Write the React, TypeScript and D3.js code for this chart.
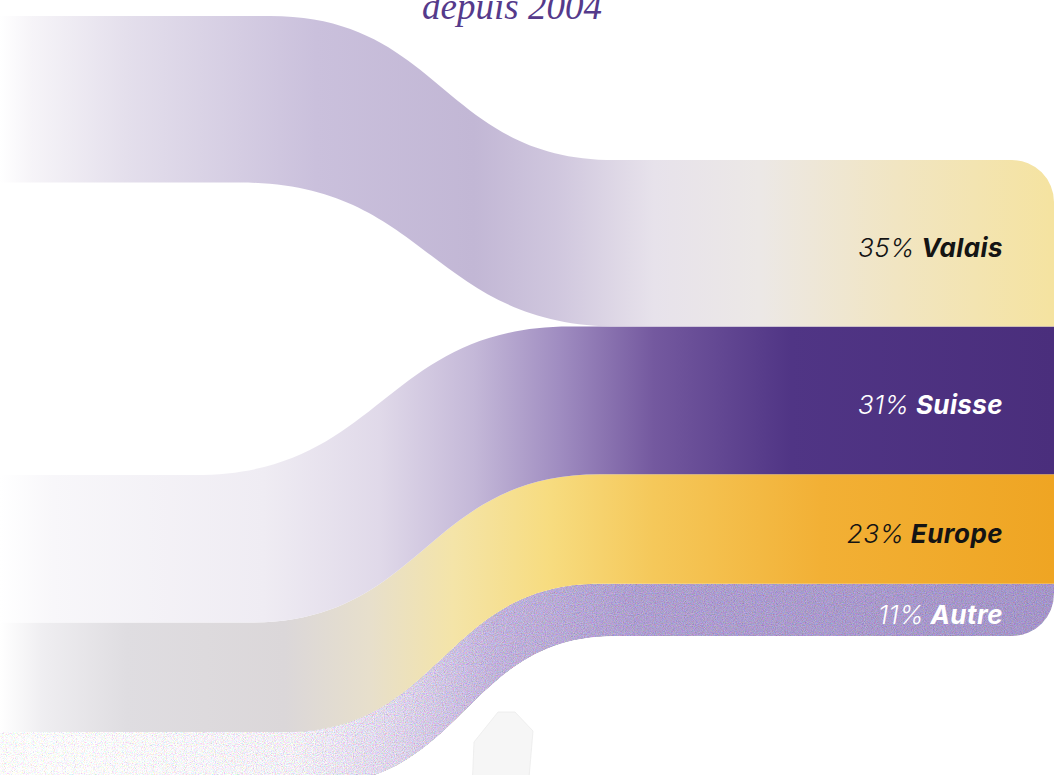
import React from "react";
import * as d3 from "d3";

// ---- data ----
const categories = ["Valais", "Suisse", "Europe", "Autre"];
const shares = [35, 31, 23, 11];
const title = "depuis 2004";

// ---- layout ----
const W = 1054;
const H = 775;
const RIGHT_TOP = 160;
const LEFT_TOP_FIRST = 16; // Valais origin band
const LEFT_TOP_REST = 475; // Suisse / Europe / Autre stacked origin
const LABEL_X = 1003;

// transition spans of each boundary curve [start x, end x]
const spans: [number, number][] = [
  [270, 615], // Valais top
  [240, 620], // Valais bottom
  [195, 570], // Suisse top
  [250, 600], // Suisse / Europe
  [285, 600], // Europe / Autre
  [315, 615], // Autre bottom
];

const gradients: Record<string, [number, string][]> = {
  Valais: [
    [0, "#ffffff"],
    [0.03, "#f6f4f8"],
    [0.12, "#e4dfec"],
    [0.3, "#cac0dc"],
    [0.45, "#c2b7d5"],
    [0.53, "#d0c7de"],
    [0.62, "#e7e2eb"],
    [0.72, "#ece8e6"],
    [0.85, "#f1e5c2"],
    [1, "#f5e3a0"],
  ],
  Suisse: [
    [0, "#ffffff"],
    [0.05, "#f8f7fa"],
    [0.25, "#efecf3"],
    [0.36, "#e0d9e9"],
    [0.45, "#c4b8d8"],
    [0.53, "#a08dc1"],
    [0.62, "#74599f"],
    [0.75, "#503585"],
    [1, "#4a2e7c"],
  ],
  Europe: [
    [0, "#ffffff"],
    [0.04, "#efeef1"],
    [0.12, "#dfdde1"],
    [0.27, "#dbd7d9"],
    [0.35, "#e7dfcc"],
    [0.43, "#f4e4a8"],
    [0.52, "#f7dc80"],
    [0.62, "#f5c85a"],
    [0.78, "#f2b035"],
    [1, "#efa523"],
  ],
  Autre: [
    [0, "#ffffff"],
    [0.1, "#fbfafc"],
    [0.28, "#f0ecf4"],
    [0.38, "#dad1e7"],
    [0.47, "#bfb1d8"],
    [0.6, "#ad9ecd"],
    [1, "#a394c6"],
  ],
};

const labelColors = ["#141414", "#ffffff", "#141414", "#ffffff"];

export default function App() {
  const y = d3.scaleLinear().domain([0, 100]).range([0, 476]);

  // right stack
  const rightStarts = d3.cumsum([0, ...shares.slice(0, -1)]).map((c) => RIGHT_TOP + y(c));
  // left stack (Valais apart, others stacked)
  const leftStarts = [LEFT_TOP_FIRST];
  let acc = LEFT_TOP_REST;
  for (let i = 1; i < shares.length; i++) {
    leftStarts.push(acc);
    acc += y(shares[i]);
  }

  // boundary lines: [leftY, rightY]
  const bounds: [number, number][] = [
    [leftStarts[0], rightStarts[0]],
    [leftStarts[0] + y(shares[0]), rightStarts[0] + y(shares[0])],
    [leftStarts[1], rightStarts[1]],
    [leftStarts[2], rightStarts[2]],
    [leftStarts[3], rightStarts[3]],
    [leftStarts[3] + y(shares[3]), rightStarts[3] + y(shares[3])],
  ];

  const edge = (bi: number, reverse: boolean, p: d3.Path, first: boolean) => {
    const [yl, yr] = bounds[bi];
    const [xa, xb] = spans[bi];
    const xm = (xa + xb) / 2;
    if (!reverse) {
      if (first) p.moveTo(-5, yl);
      else p.lineTo(-5, yl);
      p.lineTo(xa, yl);
      p.bezierCurveTo(xm, yl, xm, yr, xb, yr);
      p.lineTo(W + 5, yr);
    } else {
      p.lineTo(W + 5, yr);
      p.lineTo(xb, yr);
      p.bezierCurveTo(xm, yr, xm, yl, xa, yl);
      p.lineTo(-5, yl);
    }
  };

  const bandBounds = [
    [0, 1],
    [2, 3],
    [3, 4],
    [4, 5],
  ];

  const bandPath = (i: number) => {
    const p = d3.path();
    edge(bandBounds[i][0], false, p, true);
    edge(bandBounds[i][1], true, p, false);
    p.closePath();
    return p.toString();
  };

  const rightTop = rightStarts[0];
  const rightBottom = rightStarts[3] + y(shares[3]);

  const blob = d3.line().curve(d3.curveLinearClosed)([
    [498, 712],
    [515, 712],
    [533, 731],
    [528, 790],
    [472, 790],
    [474, 742],
  ] as [number, number][]);

  return (
    <svg
      width={W}
      height={H}
      viewBox={`0 0 ${W} ${H}`}
      style={{ position: "absolute", left: 0, top: 0, display: "block", background: "#ffffff" }}
    >
      <defs>
        {categories.map((c) => (
          <linearGradient key={c} id={`g-${c}`} gradientUnits="userSpaceOnUse" x1={0} y1={0} x2={W} y2={0}>
            {gradients[c].map(([o, col], k) => (
              <stop key={k} offset={o} stopColor={col} />
            ))}
          </linearGradient>
        ))}
        <clipPath id="clipR">
          <rect x={-10} y={-10} width={1010} height={H + 20} />
          <rect x={600} y={rightTop} width={W - 600} height={rightBottom - rightTop} rx={42} ry={42} />
        </clipPath>
        <filter id="grain" x="0" y="0" width="100%" height="100%" filterUnits="objectBoundingBox">
          <feTurbulence type="fractalNoise" baseFrequency="0.9" numOctaves={2} seed={7} result="noise" />
          <feColorMatrix
            in="noise"
            type="matrix"
            values="1 0 0 0 0  0 1 0 0 0  0 0 1 0 0  0 0 0 0 1"
            result="noiseOpaque"
          />
          <feComposite
            in="SourceGraphic"
            in2="noiseOpaque"
            operator="arithmetic"
            k1={1.2}
            k2={0.42}
            k3={0}
            k4={0}
            result="mixed"
          />
          <feComposite in="mixed" in2="SourceGraphic" operator="in" />
        </filter>
      </defs>

      <g clipPath="url(#clipR)">
        <path d={blob || ""} fill="#f6f6f6" stroke="#ebebeb" strokeWidth={0.8} />
        {[3, 2, 1, 0].map((i) => (
          <path
            key={categories[i]}
            d={bandPath(i)}
            fill={`url(#g-${categories[i]})`}
            filter={categories[i] === "Autre" ? "url(#grain)" : undefined}
          />
        ))}
      </g>

      <text
        x={512}
        y={19}
        textAnchor="middle"
        fontFamily="'Liberation Serif', 'DejaVu Serif', serif"
        fontStyle="italic"
        fontSize={37}
        fill="#553a8b"
      >
        {title}
      </text>

      {categories.map((c, i) => {
        const cy = rightStarts[i] + y(shares[i]) / 2;
        return (
          <text
            key={c}
            x={LABEL_X}
            y={cy + 14}
            textAnchor="end"
            fontFamily="Inter, 'Open Sans', sans-serif"
            fontStyle="italic"
            fontSize={26}
            letterSpacing={0.4}
            fill={labelColors[i]}
          >
            <tspan fontWeight={300}>{`${shares[i]}%`}</tspan>
            <tspan fontWeight={700}>{` ${c}`}</tspan>
          </text>
        );
      })}
    </svg>
  );
}
